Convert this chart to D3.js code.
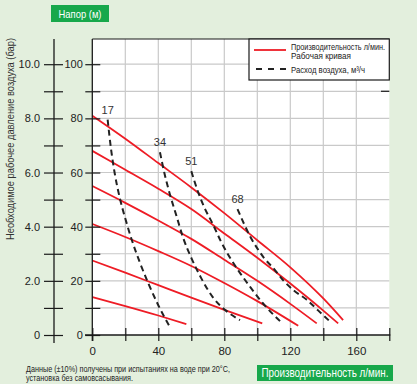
<!DOCTYPE html>
<html><head><meta charset="utf-8">
<script src="https://cdn.jsdelivr.net/npm/d3@7/dist/d3.min.js"></script>
<style>
html,body{margin:0;padding:0;background:#e3efdd;}
svg{display:block;}
text{font-family:"Liberation Sans Narrow","Liberation Sans",Arial,sans-serif;}
</style></head><body>
<svg id="c" width="417" height="384"></svg>
<script>
// ---- data ----
const flowTicks = [0,20,40,60,80,100,120,140,160,180];
const flowLabels = [0,40,80,120,160];
const headTicks = [0,10,20,30,40,50,60,70,80,90,100];
const headLabels = [0,20,40,60,80,100];
const barTicks = [0,1,2,3,4,5,6,7,8,9,10];
const barLabels = [0,2,4,6,8,10];

// working curves: [flow l/min, head m]
const work1 = [[0,81],[20,72.5],[40,63.5],[60,54.5],[80,45],[100,35],[120,25],[140,13.5],[152,5.5]];
const work2 = [[0,68],[20,61],[40,54],[60,46.5],[80,37.5],[100,28.5],[120,19],[140,9],[149,4.3]];
const work3 = [[0,55],[20,48.8],[40,42.3],[60,35.5],[80,27.8],[100,20],[120,11.5],[136,4.3]];
const work4 = [[0,41],[20,36.2],[40,31],[60,25.5],[80,19.2],[100,12.5],[124.8,3.4]];
const work5 = [[0,27.5],[20,23],[40,18.4],[60,13.8],[80,9.3],[103,4.3]];
const work6 = [[0,14],[20,10.7],[40,7.2],[57,4]];

// air consumption curves (m3/h)
const airNames = ["17","34","51","68"];
const air17 = [[9.3,79.5],[11.5,68],[13.5,60],[16.5,51],[20,43],[24,35],[29,26.5],[34,19],[40,11],[47,3]];
const air34 = [[41,67.5],[44,59],[47,52],[51,44],[55,36],[60,28.5],[66,21],[73,14],[81,9],[89.5,5.5]];
const air51 = [[60,60.5],[64,53],[68,47],[73,41],[78,34.5],[84,28],[90,22.5],[96,17.5],[103,12],[109,8],[114,5]];
const air68 = [[88,46.5],[92,41],[96,36],[100,32],[104,28.5],[110,24.5],[116,20],[122,16.5],[130,13],[137,9],[144,5]];

const titleHead = "Напор (м)";
const titleFlow = "Производительность л/мин.";
const titleAir = "Необходимое рабочее давление воздуха (бар)";
const legendItems = ["Производительность л/мин.","Рабочая кривая","Расход воздуха, м³/ч"];
const note1 = "Данные (±10%) получены при испытаниях на воде при 20°C,";
const note2 = "установка без самовсасывания.";

// ---- layout ----
const svg = d3.select("#c");
const L = 92.3, R = 389.3, B = 335, T = 39;
const x = d3.scaleLinear().domain([0,180]).range([L,R]);
const y = d3.scaleLinear().domain([0,100]).range([B,64.2]);
const yBar = d3.scaleLinear().domain([0,10]).range([B,64.2]);
const red = "#ee1c25", green = "#17a84b", ink = "#1a1a1a";

// plot area
svg.append("rect").attr("x",L).attr("y",T).attr("width",R-L).attr("height",B-T).attr("fill","#fff");

// grid
svg.append("g").selectAll("line").data(headTicks.filter(d=>d>0)).join("line")
  .attr("x1",L).attr("x2",R).attr("y1",d=>y(d)).attr("y2",d=>y(d))
  .attr("stroke","#c9c9c9").attr("stroke-width",1.2);
svg.append("g").selectAll("line").data(flowTicks.filter(d=>d>0&&d<180)).join("line")
  .attr("x1",d=>x(d)).attr("x2",d=>x(d)).attr("y1",T).attr("y2",B)
  .attr("stroke","#c9c9c9").attr("stroke-width",1.2);

// top border
svg.append("line").attr("x1",L).attr("x2",R).attr("y1",T).attr("y2",T).attr("stroke",ink).attr("stroke-width",1.2);

// curves
const line = d3.line().x(d=>x(d[0])).y(d=>y(d[1])).curve(d3.curveMonotoneX);
[work1,work2,work3,work4,work5,work6].forEach(c=>{
  svg.append("path").attr("d",line(c)).attr("fill","none").attr("stroke",red).attr("stroke-width",1.8);
});
const airCurves = [air17,air34,air51,air68];
airCurves.forEach((c,i)=>{
  svg.append("path").attr("d",line(c)).attr("fill","none").attr("stroke","#222")
    .attr("stroke-width",2).attr("stroke-dasharray","6,4");
  svg.append("text").attr("x",x(c[0][0])).attr("y",y(c[0][1])-10)
    .attr("text-anchor","middle").attr("dominant-baseline","central")
    .attr("font-size",11).attr("fill","#333").text(airNames[i]);
});

// legend
const lg = svg.append("g");
lg.append("rect").attr("x",249).attr("y",T).attr("width",R-249).attr("height",41)
  .attr("fill","#fff").attr("stroke",ink).attr("stroke-width",1.2);
lg.append("line").attr("x1",254).attr("x2",286).attr("y1",50).attr("y2",50).attr("stroke",red).attr("stroke-width",1.8);
lg.append("line").attr("x1",254).attr("x2",287).attr("y1",69).attr("y2",69).attr("stroke","#222").attr("stroke-width",2).attr("stroke-dasharray","6,6").attr("stroke-dashoffset",-2);
const lgY = [46.5,55.5,69.5], lgW = [94,60,74];
legendItems.forEach((t,i)=>{
  lg.append("text").attr("x",291).attr("y",lgY[i]).attr("dominant-baseline","central")
    .attr("font-size",9).attr("fill","#222").attr("textLength",lgW[i]).attr("lengthAdjust","spacingAndGlyphs").text(t);
});
// right-edge tick
svg.append("line").attr("x1",381).attr("x2",R).attr("y1",y(90)).attr("y2",y(90)).attr("stroke",ink).attr("stroke-width",1.2);

// left bar axis
const aBar = svg.append("g").attr("transform",`translate(54,0)`)
  .call(d3.axisLeft(yBar).tickValues(barTicks).tickSize(10)
    .tickFormat(d=>barLabels.includes(d)?(d===0?"0":d.toFixed(1)):""));
aBar.select(".domain").remove();
aBar.selectAll(".tick line").attr("x1",9).attr("x2",-10).attr("stroke",ink).attr("stroke-width",1.2);
aBar.selectAll(".tick text").attr("x",-14).attr("font-size",11).attr("fill","#222").attr("font-family","Liberation Sans Narrow, Liberation Sans, sans-serif");
svg.append("line").attr("x1",54).attr("x2",54).attr("y1",T).attr("y2",343).attr("stroke",ink).attr("stroke-width",1.3);

// inner head axis
const aHead = svg.append("g").attr("transform",`translate(${L},0)`)
  .call(d3.axisLeft(y).tickValues(headTicks).tickSize(7)
    .tickFormat(d=>headLabels.includes(d)?d:""));
aHead.select(".domain").remove();
aHead.selectAll(".tick line").attr("x1",8).attr("x2",-7).attr("stroke",ink).attr("stroke-width",1.2);
aHead.selectAll(".tick text").attr("x",-9.5).attr("font-size",11).attr("fill","#222");
svg.append("line").attr("x1",L).attr("x2",L).attr("y1",T).attr("y2",341).attr("stroke",ink).attr("stroke-width",1.3);

// x axis
const aX = svg.append("g").attr("transform",`translate(0,${B})`)
  .call(d3.axisBottom(x).tickValues(flowTicks).tickSize(6)
    .tickFormat(d=>flowLabels.includes(d)?d:""));
aX.select(".domain").remove();
aX.selectAll(".tick line").attr("y1",-7).attr("y2",6).attr("stroke",ink).attr("stroke-width",1.2);
aX.selectAll(".tick text").attr("y",12).attr("font-size",11.5).attr("fill","#222");
svg.append("line").attr("x1",85).attr("x2",R+1).attr("y1",B).attr("y2",B).attr("stroke",ink).attr("stroke-width",1.3);

// titles
svg.append("rect").attr("x",51).attr("y",5).attr("width",58).attr("height",17).attr("fill",green);
svg.append("text").attr("x",80).attr("y",13.8).attr("text-anchor","middle").attr("dominant-baseline","central")
  .attr("font-size",11).attr("fill","#fff").attr("textLength",43).attr("lengthAdjust","spacingAndGlyphs").text(titleHead);
svg.append("rect").attr("x",257).attr("y",365).attr("width",136).attr("height",16).attr("fill",green);
svg.append("text").attr("x",325).attr("y",373.3).attr("text-anchor","middle").attr("dominant-baseline","central")
  .attr("font-size",12).attr("fill","#fff").attr("textLength",127).attr("lengthAdjust","spacingAndGlyphs").text(titleFlow);
svg.append("text").attr("transform","translate(10,139) rotate(-90)").attr("text-anchor","middle").attr("dominant-baseline","central")
  .attr("font-size",11).attr("fill","#333").attr("textLength",202).attr("lengthAdjust","spacingAndGlyphs").text(titleAir);

// footnote
svg.append("text").attr("x",26).attr("y",368.5).attr("dominant-baseline","central")
  .attr("font-size",8.5).attr("fill","#222").attr("textLength",204).attr("lengthAdjust","spacingAndGlyphs").text(note1);
svg.append("text").attr("x",26).attr("y",377.5).attr("dominant-baseline","central")
  .attr("font-size",8.5).attr("fill","#222").attr("textLength",107).attr("lengthAdjust","spacingAndGlyphs").text(note2);
</script>
</body></html>
